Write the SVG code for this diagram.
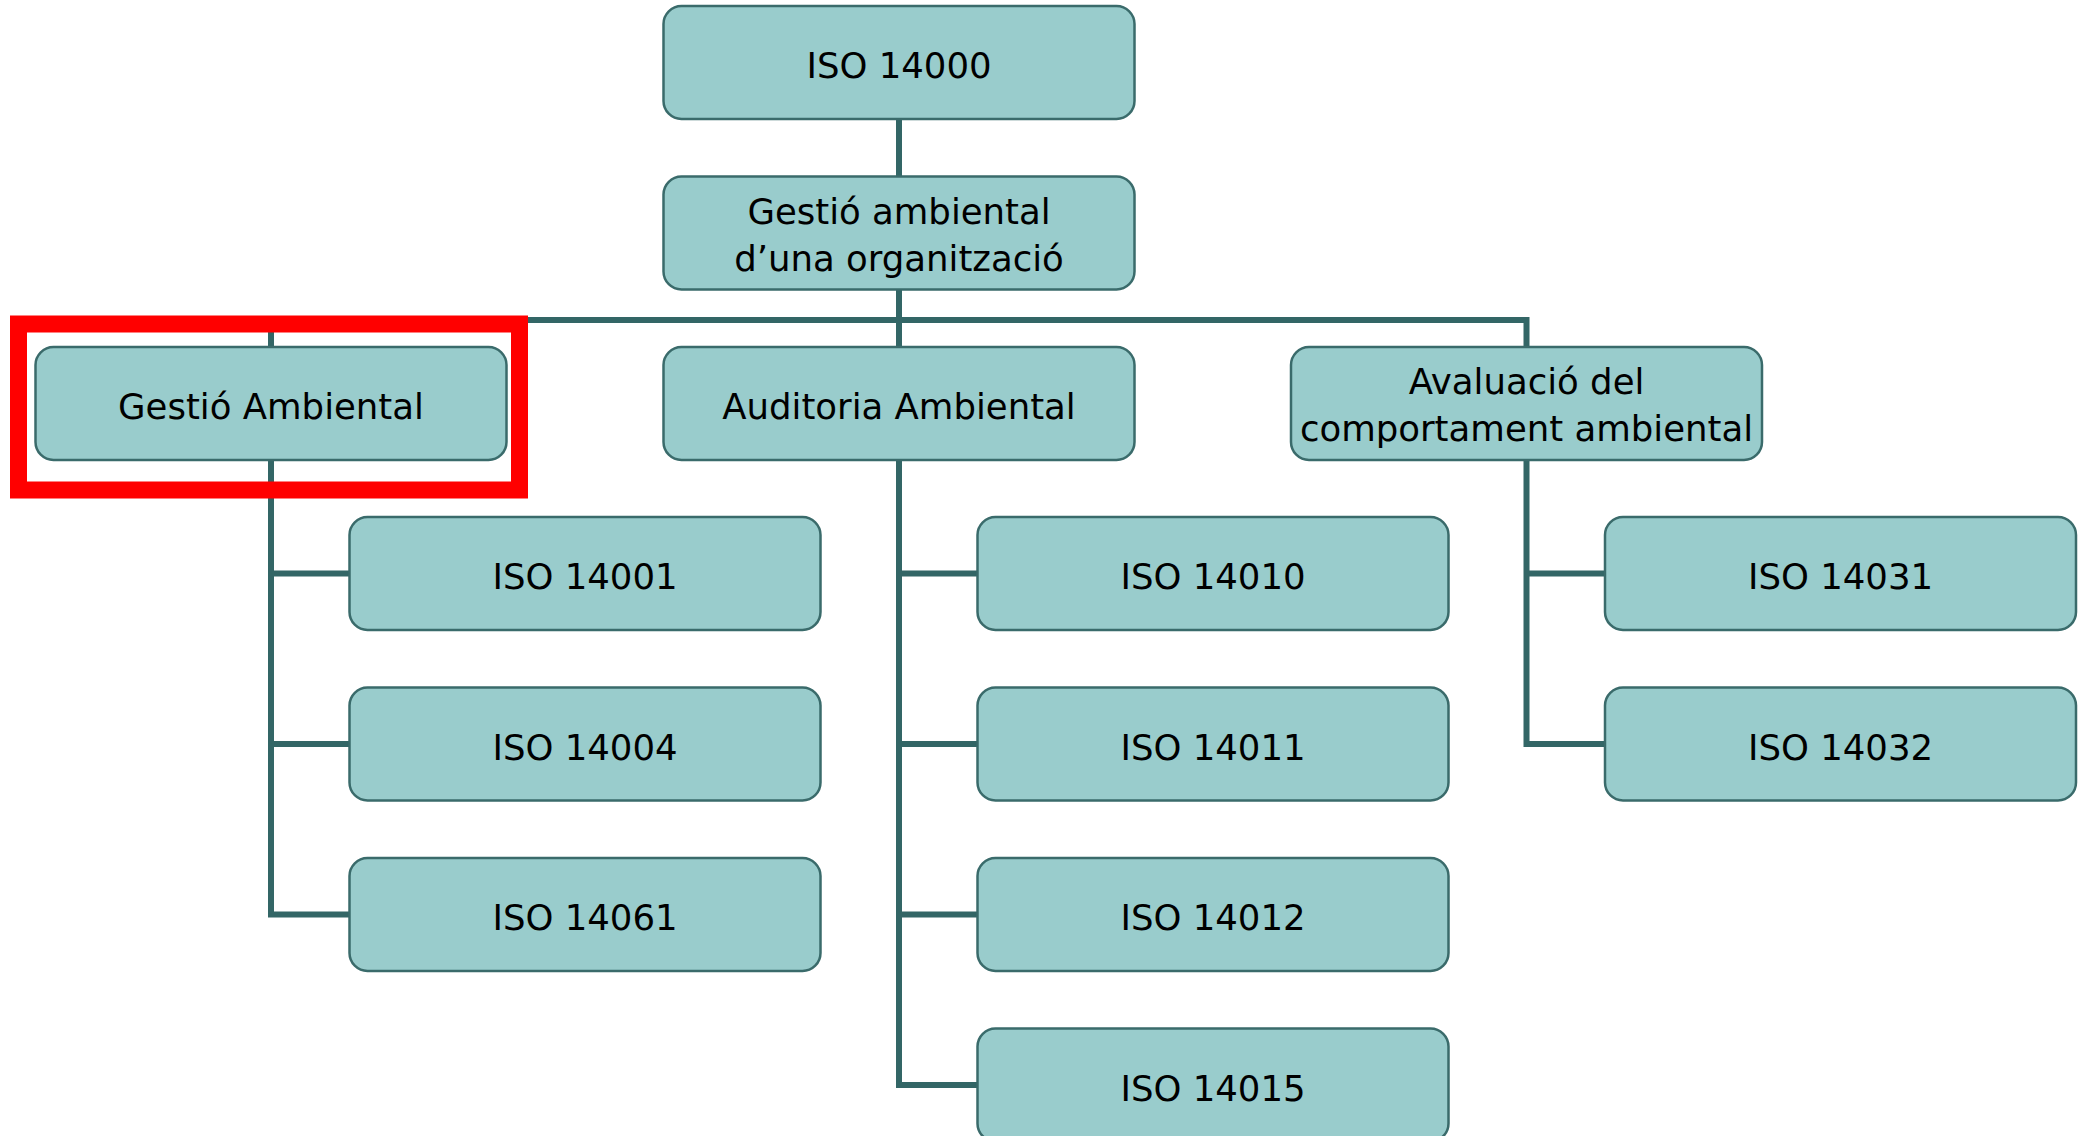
<svg xmlns="http://www.w3.org/2000/svg" width="2085" height="1136" viewBox="0 0 2085 1136">
<style>
.box{fill:#99CCCC;stroke:#3A6B6B;stroke-width:2.5}
.t{font-family:"DejaVu Sans",Verdana,sans-serif;font-size:35.5px;fill:#000;text-anchor:middle}
.c{fill:none;stroke:#336666;stroke-width:6;stroke-linejoin:miter;stroke-linecap:butt}
</style>
<rect width="2085" height="1136" fill="#FFFFFF"/>
<g id="connectors">
<path class="c" d="M899 119V178"/>
<path class="c" d="M899 289V348"/>
<path class="c" d="M271 348V320H1526.5V348"/>
<path class="c" d="M271 459V914.5H350M271 573.5H350M271 744H350"/>
<path class="c" d="M899 459V1085H978M899 573.5H978M899 744H978M899 914.5H978"/>
<path class="c" d="M1526.5 459V744H1606M1526.5 573.5H1606"/>
</g>
<g id="n-iso14000"><rect class="box" x="663.5" y="6" width="471" height="113" rx="18"/><text class="t" x="899" y="78">ISO 14000</text></g>
<g id="n-organitzacio"><rect class="box" x="663.5" y="176.5" width="471" height="113" rx="18"/><text class="t" x="899" y="224">Gestió ambiental</text><text class="t" x="899" y="271">d’una organització</text></g>
<g id="n-gestio"><rect class="box" x="35.5" y="347" width="471" height="113" rx="18"/><text class="t" x="271" y="419">Gestió Ambiental</text></g>
<g id="n-auditoria"><rect class="box" x="663.5" y="347" width="471" height="113" rx="18"/><text class="t" x="899" y="419">Auditoria Ambiental</text></g>
<g id="n-avaluacio"><rect class="box" x="1291" y="347" width="471" height="113" rx="18"/><text class="t" x="1526.5" y="394">Avaluació del</text><text class="t" x="1526.5" y="441">comportament ambiental</text></g>
<g id="n-iso14001"><rect class="box" x="349.5" y="517" width="471" height="113" rx="18"/><text class="t" x="585" y="589">ISO 14001</text></g>
<g id="n-iso14004"><rect class="box" x="349.5" y="687.5" width="471" height="113" rx="18"/><text class="t" x="585" y="759.5">ISO 14004</text></g>
<g id="n-iso14061"><rect class="box" x="349.5" y="858" width="471" height="113" rx="18"/><text class="t" x="585" y="930">ISO 14061</text></g>
<g id="n-iso14010"><rect class="box" x="977.5" y="517" width="471" height="113" rx="18"/><text class="t" x="1213" y="589">ISO 14010</text></g>
<g id="n-iso14011"><rect class="box" x="977.5" y="687.5" width="471" height="113" rx="18"/><text class="t" x="1213" y="759.5">ISO 14011</text></g>
<g id="n-iso14012"><rect class="box" x="977.5" y="858" width="471" height="113" rx="18"/><text class="t" x="1213" y="930">ISO 14012</text></g>
<g id="n-iso14015"><rect class="box" x="977.5" y="1028.5" width="471" height="113" rx="18"/><text class="t" x="1213" y="1100.5">ISO 14015</text></g>
<g id="n-iso14031"><rect class="box" x="1605" y="517" width="471" height="113" rx="18"/><text class="t" x="1840.5" y="589">ISO 14031</text></g>
<g id="n-iso14032"><rect class="box" x="1605" y="687.5" width="471" height="113" rx="18"/><text class="t" x="1840.5" y="759.5">ISO 14032</text></g>
<g id="highlight"><rect x="18.5" y="324" width="501" height="166" fill="none" stroke="#FF0000" stroke-width="17"/></g>
</svg>
